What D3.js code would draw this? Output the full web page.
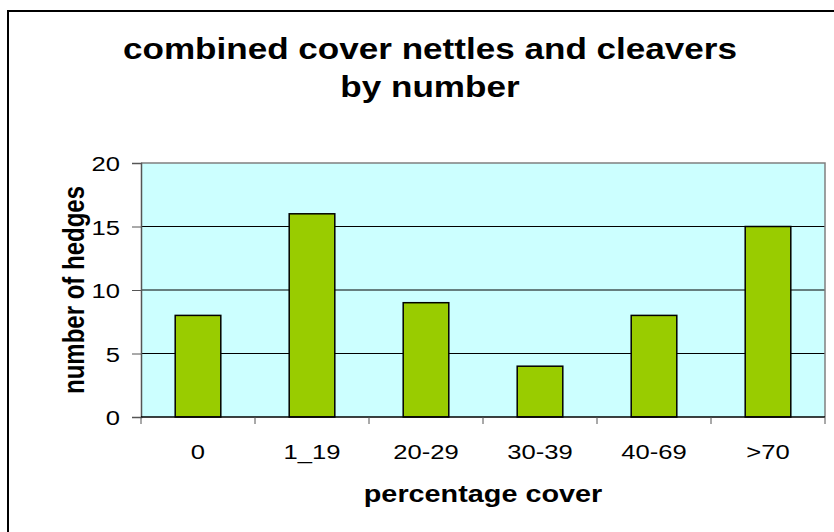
<!DOCTYPE html>
<html>
<head>
<meta charset="utf-8">
<script src="https://cdn.jsdelivr.net/npm/d3@7"></script>
<style>
  body { margin: 0; background: #fff; }
  svg { display: block; font-family: "Liberation Sans", Arial, sans-serif; }
</style>
</head>
<body>
<div id="chart"></div>
<script>
// Data
const categories = ["0", "1_19", "20-29", "30-39", "40-69", ">70"];
const hedges = [8, 16, 9, 4, 8, 15];
const yTicks = [0, 5, 10, 15, 20];
const titleLines = ["combined cover nettles and cleavers", "by number"];
const xTitle = "percentage cover";
const yTitle = "number of hedges";

const width = 834;
const height = 532;
const margin = { top: 163, right: 9, bottom: 115, left: 141 };
const plotW = width - margin.left - margin.right;
const plotH = height - margin.top - margin.bottom;

const svg = d3.select("#chart").append("svg")
    .attr("width", width)
    .attr("height", height);

// outer chart frame (right and bottom edges fall outside the picture)
svg.append("rect")
    .attr("x", 8)
    .attr("y", 11)
    .attr("width", 900)
    .attr("height", 600)
    .attr("fill", "#fff")
    .attr("stroke", "#000")
    .attr("stroke-width", 2);

// helper: text that is stretched horizontally like the Excel export
function stretchedText(parent, str, x, y, size, sx, opts = {}) {
    return parent.append("text")
        .attr("transform", `translate(${x},${y}) scale(${sx},1)`)
        .attr("text-anchor", opts.anchor || "middle")
        .attr("font-size", size)
        .attr("font-weight", opts.bold ? "bold" : null)
        .attr("fill", "#000")
        .text(str);
}

// title
titleLines.forEach((line, i) => {
    stretchedText(svg, line, 430, 59 + i * 38, 30, 1.17, { bold: true });
});

const g = svg.append("g")
    .attr("transform", `translate(${margin.left},${margin.top})`);

const x = d3.scaleBand()
    .domain(categories)
    .range([0, plotW])
    .padding(0);

const y = d3.scaleLinear()
    .domain([0, 20])
    .range([plotH, 0]);

// plot background
g.append("rect")
    .attr("width", plotW)
    .attr("height", plotH)
    .attr("fill", "#ccffff");

// gridlines
g.append("g").selectAll("line")
    .data(yTicks.filter(d => d > 0 && d < 20))
    .join("line")
    .attr("x1", 0)
    .attr("x2", plotW)
    .attr("y1", d => y(d))
    .attr("y2", d => y(d))
    .attr("stroke", "#000")
    .attr("stroke-width", 1);

// top and right border of plot area
g.append("path")
    .attr("d", `M0,${y(20)}H${plotW}V${plotH}`)
    .attr("fill", "none")
    .attr("stroke", "#808080")
    .attr("stroke-width", 1.5);

// bars
const barW = x.bandwidth() * 0.4;
g.append("g").selectAll("rect")
    .data(hedges)
    .join("rect")
    .attr("x", (d, i) => x(categories[i]) + (x.bandwidth() - barW) / 2)
    .attr("y", d => y(d))
    .attr("width", barW)
    .attr("height", d => plotH - y(d))
    .attr("fill", "#99cc00")
    .attr("stroke", "#000")
    .attr("stroke-width", 1.5);

// y axis
const yAxis = d3.axisLeft(y).tickValues(yTicks).tickSize(9).tickFormat(d3.format("d"));
const yAxisGroup = g.append("g").call(yAxis);
yAxisGroup.select(".domain").attr("stroke", "#555").attr("stroke-width", 1.5);
yAxisGroup.selectAll(".tick line").attr("stroke", "#555");
yAxisGroup.selectAll(".tick text")
    .attr("x", null)
    .attr("dy", null)
    .attr("font-size", 21)
    .attr("font-family", null)
    .attr("fill", "#000")
    .attr("transform", "translate(-21,7.5) scale(1.22,1)");

// x axis: ticks sit on the category boundaries
const xAxisGroup = g.append("g")
    .attr("transform", `translate(0,${plotH})`);
xAxisGroup.append("line")
    .attr("x1", 0)
    .attr("x2", plotW)
    .attr("stroke", "#000")
    .attr("stroke-width", 1.5);
xAxisGroup.selectAll(".xtick")
    .data(categories.map(c => x(c)).concat([plotW]))
    .join("line")
    .attr("class", "xtick")
    .attr("x1", d => d)
    .attr("x2", d => d)
    .attr("y1", 0)
    .attr("y2", 7)
    .attr("stroke", "#555");
categories.forEach(c => {
    stretchedText(xAxisGroup, c, x(c) + x.bandwidth() / 2, 42, 21, 1.22);
});

// axis titles
stretchedText(svg, xTitle, margin.left + plotW / 2, 502, 24, 1.2, { bold: true });

svg.append("text")
    .attr("transform", `translate(84,${margin.top + plotH / 2}) rotate(-90) scale(1,1.2)`)
    .attr("text-anchor", "middle")
    .attr("font-size", 24)
    .attr("font-weight", "bold")
    .text(yTitle);
</script>
</body>
</html>
